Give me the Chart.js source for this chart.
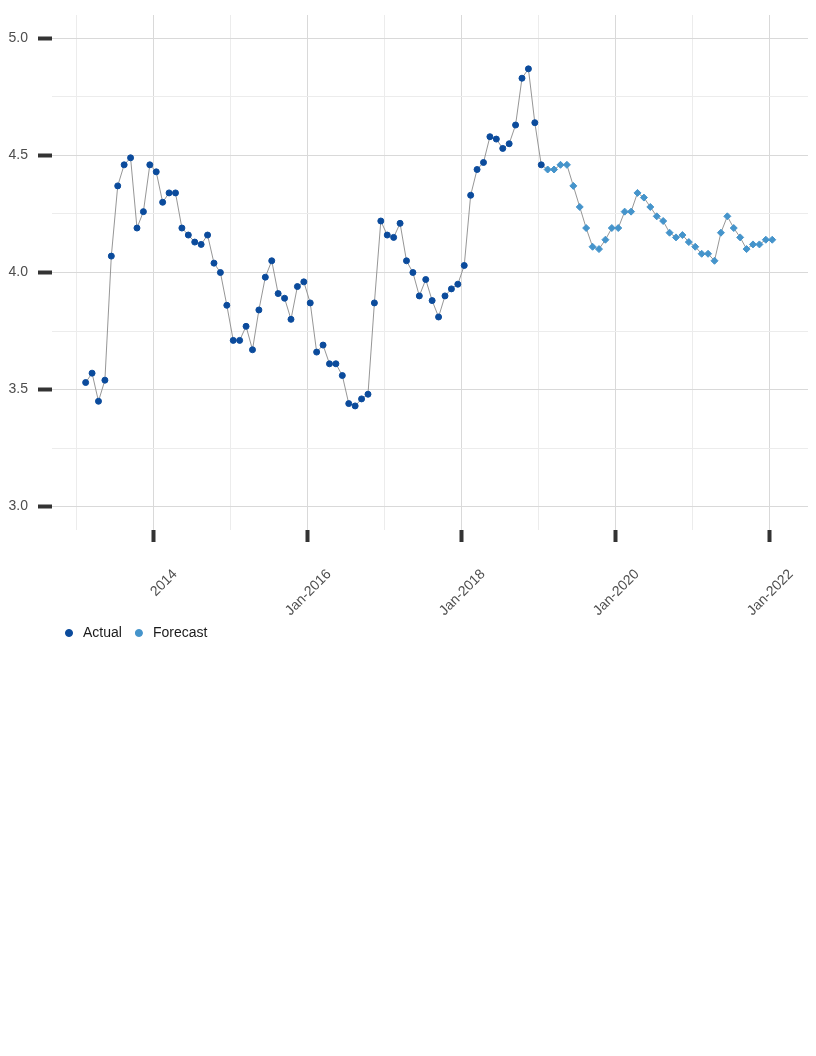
<!DOCTYPE html>
<html>
<head>
<meta charset="utf-8">
<title>Actual vs Forecast</title>
<script src="https://cdn.jsdelivr.net/npm/chart.js@4.4.1/dist/chart.umd.min.js"></script>
<style>
    body { margin: 0; background: #ffffff; }
    #wrap { width: 816px; height: 660px; position: relative; }
</style>
</head>
<body>
<div id="wrap"><canvas id="myChart"></canvas></div>
<script>
// monthly observations (Feb 2013 - Jan 2019)
const actualMonths = [
    '2013-02','2013-03','2013-04','2013-05','2013-06','2013-07','2013-08','2013-09','2013-10','2013-11','2013-12',
    '2014-01','2014-02','2014-03','2014-04','2014-05','2014-06','2014-07','2014-08','2014-09','2014-10','2014-11','2014-12',
    '2015-01','2015-02','2015-03','2015-04','2015-05','2015-06','2015-07','2015-08','2015-09','2015-10','2015-11','2015-12',
    '2016-01','2016-02','2016-03','2016-04','2016-05','2016-06','2016-07','2016-08','2016-09','2016-10','2016-11','2016-12',
    '2017-01','2017-02','2017-03','2017-04','2017-05','2017-06','2017-07','2017-08','2017-09','2017-10','2017-11','2017-12',
    '2018-01','2018-02','2018-03','2018-04','2018-05','2018-06','2018-07','2018-08','2018-09','2018-10','2018-11','2018-12',
    '2019-01'
];
const actualValues = [
    3.53, 3.57, 3.45, 3.54, 4.07, 4.37, 4.46, 4.49, 4.19, 4.26, 4.46,
    4.43, 4.30, 4.34, 4.34, 4.19, 4.16, 4.13, 4.12, 4.16, 4.04, 4.00, 3.86,
    3.71, 3.71, 3.77, 3.67, 3.84, 3.98, 4.05, 3.91, 3.89, 3.80, 3.94, 3.96,
    3.87, 3.66, 3.69, 3.61, 3.61, 3.56, 3.44, 3.43, 3.46, 3.48, 3.87, 4.22,
    4.16, 4.15, 4.21, 4.05, 4.00, 3.90, 3.97, 3.88, 3.81, 3.90, 3.93, 3.95,
    4.03, 4.33, 4.44, 4.47, 4.58, 4.57, 4.53, 4.55, 4.63, 4.83, 4.87, 4.64,
    4.46
];
// forecast (Feb 2019 - Jan 2022)
const forecastMonths = [
    '2019-02','2019-03','2019-04','2019-05','2019-06','2019-07','2019-08','2019-09','2019-10','2019-11','2019-12',
    '2020-01','2020-02','2020-03','2020-04','2020-05','2020-06','2020-07','2020-08','2020-09','2020-10','2020-11','2020-12',
    '2021-01','2021-02','2021-03','2021-04','2021-05','2021-06','2021-07','2021-08','2021-09','2021-10','2021-11','2021-12',
    '2022-01'
];
const forecastValues = [
    4.44, 4.44, 4.46, 4.46, 4.37, 4.28, 4.19, 4.11, 4.10, 4.14, 4.19,
    4.19, 4.26, 4.26, 4.34, 4.32, 4.28, 4.24, 4.22, 4.17, 4.15, 4.16, 4.13,
    4.11, 4.08, 4.08, 4.05, 4.17, 4.24, 4.19, 4.15, 4.10, 4.12, 4.12, 4.14,
    4.14
];
const yTickLabels = ['3.0', '3.5', '4.0', '4.5', '5.0'];
const xTickLabels = { 2014: '2014', 2016: 'Jan-2016', 2018: 'Jan-2018', 2020: 'Jan-2020', 2022: 'Jan-2022' };

const darkBlue = '#0b4b9c';
const lightBlue = '#4594cb';
const fontFam = '"Liberation Sans", Arial, sans-serif';

// 'YYYY-MM' -> decimal year at the middle of the month
function toYear(m) {
    const parts = m.split('-');
    return Number(parts[0]) + (Number(parts[1]) - 0.5) / 12;
}
function toPoints(months, values) {
    return months.map((m, i) => ({ x: toYear(m), y: values[i] }));
}

const actualPts = toPoints(actualMonths, actualValues);
const forecastPts = toPoints(forecastMonths, forecastValues);
const allPts = actualPts.concat(forecastPts);

function isHalf(v) {
    return Math.abs(v * 2 - Math.round(v * 2)) < 1e-6;
}
function isEvenYear(v) {
    const r = Math.round(v);
    return Math.abs(v - r) < 1e-6 && r % 2 === 0;
}

const ctx = document.getElementById('myChart').getContext('2d');
new Chart(ctx, {
    type: 'scatter',
    data: {
        datasets: [
            {
                label: 'Actual',
                data: actualPts,
                backgroundColor: darkBlue,
                borderColor: darkBlue,
                pointStyle: 'circle',
                pointRadius: 3,
                pointBorderWidth: 1,
                showLine: false,
                order: 0
            },
            {
                label: 'Forecast',
                data: forecastPts,
                backgroundColor: lightBlue,
                borderColor: lightBlue,
                pointStyle: 'rectRot',
                pointRadius: 3.5,
                pointBorderWidth: 1,
                showLine: false,
                order: 1
            },
            {
                label: 'line',
                data: allPts,
                borderColor: '#8a8a8a',
                borderWidth: 0.9,
                pointRadius: 0,
                showLine: true,
                fill: false,
                order: 2
            }
        ]
    },
    options: {
        responsive: true,
        maintainAspectRatio: false,
        animation: false,
        layout: { padding: { top: 15, right: 8, left: 0, bottom: 10 } },
        plugins: {
            tooltip: { enabled: false },
            legend: {
                position: 'bottom',
                align: 'start',
                fullSize: false,
                labels: {
                    filter: item => item.text !== 'line',
                    usePointStyle: true,
                    pointStyle: 'circle',
                    boxHeight: 5,
                    boxWidth: 14,
                    padding: 10,
                    color: '#1a1a1a',
                    font: { family: fontFam, size: 14 }
                }
            }
        },
        scales: {
            x: {
                type: 'linear',
                min: 2012.688,
                max: 2022.506,
                afterFit: scale => { scale.height = 86; },
                border: { display: false },
                grid: {
                    color: c => isEvenYear(c.tick.value) ? '#d9d9d9' : '#ececec',
                    lineWidth: 1,
                    tickColor: c => isEvenYear(c.tick.value) ? '#333333' : 'rgba(0,0,0,0)',
                    tickWidth: 4,
                    tickLength: 12
                },
                ticks: {
                    stepSize: 1,
                    autoSkip: false,
                    includeBounds: false,
                    minRotation: 45,
                    maxRotation: 45,
                    padding: 24,
                    labelOffset: 22,
                    color: '#4d4d4d',
                    font: { family: fontFam, size: 14 },
                    callback: v => xTickLabels[Math.round(v)] && isEvenYear(v) ? xTickLabels[Math.round(v)] : ''
                }
            },
            y: {
                min: 2.9,
                max: 5.1,
                afterFit: scale => {
                    scale.width = 52;
                    scale.paddingTop = 0;
                    scale.paddingBottom = 0;
                },
                border: { display: false },
                grid: {
                    color: c => isHalf(c.tick.value) ? '#d9d9d9' : '#ececec',
                    lineWidth: 1,
                    tickColor: c => isHalf(c.tick.value) ? '#333333' : 'rgba(0,0,0,0)',
                    tickWidth: 4,
                    tickLength: 14
                },
                ticks: {
                    stepSize: 0.25,
                    autoSkip: false,
                    includeBounds: false,
                    padding: 10,
                    color: '#4d4d4d',
                    font: { family: fontFam, size: 14 },
                    callback: v => isHalf(v) ? yTickLabels[Math.round((v - 3) * 2)] : ''
                }
            }
        }
    }
});
</script>
</body>
</html>
